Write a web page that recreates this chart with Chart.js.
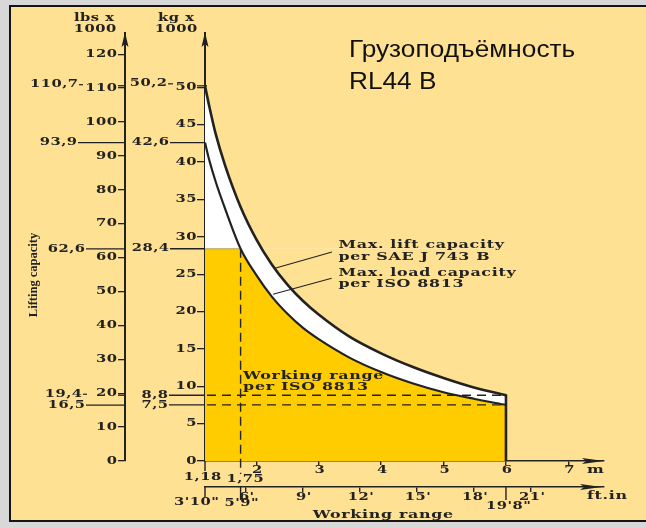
<!DOCTYPE html>
<html><head><meta charset="utf-8">
<script src="https://cdn.jsdelivr.net/npm/chart.js@4"></script>
<style>
html,body{margin:0;padding:0;background:#d8d8d8;width:646px;height:528px;overflow:hidden}
#frame{position:absolute;left:9px;top:5px;width:660px;height:513px;border:2px solid #141414;background:#FFE193}
#c{position:absolute;left:0;top:0}
</style></head>
<body><div id="frame"></div><canvas id="c" width="646" height="528"></canvas>
<script>
// ---- data ----
const distancesM      = [1.18, 1.25, 1.35, 1.5, 1.75, 2.0, 2.25, 2.5, 2.75, 3.0, 3.5, 4.0, 4.5, 5.0, 5.5, 6.0];
const liftCapacitySAE = [50.2, 47.4, 43.8, 39.6, 34.0, 29.7, 26.3, 23.6, 21.4, 19.6, 16.6, 14.4, 12.6, 11.1, 9.8, 8.8];
const loadCapacityISO = [42.6, 40.2, 37.4, 33.8, 28.4, 24.9, 22.0, 19.7, 17.8, 16.3, 13.8, 11.9, 10.4, 9.2, 8.3, 7.5];
const workingLimitKg = 28.4;
const workingLimitM  = 1.75;
const kgTicks    = [0, 5, 10, 15, 20, 25, 30, 35, 40, 45, 50];
const lbsTicks   = [0, 10, 20, 30, 40, 50, 60, 70, 80, 90, 100, 110, 120];
const meterTicks = [2, 3, 4, 5, 6, 7];
const feetTicks  = [6, 9, 12, 15, 18, 21];
const kgMarks       = [50.2, 42.6, 28.4, 8.8, 7.5];
const kgMarkLabels  = ['50,2', '42,6', '28,4', '8,8', '7,5'];
const lbsMarks      = [110.7, 93.9, 62.6, 19.4, 16.5];
const lbsMarkLabels = ['110,7', '93,9', '62,6', '19,4', '16,5'];
const meterMarks      = [1.18, 1.75];
const meterMarkLabels = ['1,18', '1,75'];
const feetMarks       = [1.18, 1.75, 6.0];
const feetMarkLabels  = ['3\'10"', '5\'9"', '19\'8"'];
const titleLines = ['Грузоподъёмность', 'RL44 B'];

const KG_TO_LBS = 2.20462, FT_TO_M = 0.3048;
const KG_MAX = 57, M_MAX = 7.57;
const INK = '#222222';
const SERIF = 'DejaVu Serif';
const NUM = {size: 10.5, sx: 1.4, ls: 0.35};
const WORD = {size: 11.5, sx: 1.38, ls: 0.5};

function wtxt(ctx, s, x, y, o) {
  o = o || {};
  const st = o.st || NUM;
  ctx.save();
  ctx.translate(x, y);
  ctx.scale(st.sx, 1);
  ctx.font = (o.weight || 'bold') + ' ' + st.size + 'px "' + (o.family || SERIF) + '"';
  ctx.fillStyle = o.color || INK;
  ctx.textAlign = o.align || 'left';
  ctx.textBaseline = o.baseline || 'middle';
  ctx.letterSpacing = (st.ls || 0) + 'px';
  let dx = 0;
  if (ctx.textAlign === 'right') dx = st.ls || 0;
  if (ctx.textAlign === 'center') dx = (st.ls || 0) / 2;
  ctx.fillText(s, dx, 0);
  ctx.restore();
}
function line(ctx, x1, y1, x2, y2, w, dash) {
  ctx.save();
  ctx.strokeStyle = INK; ctx.lineWidth = w || 1.3;
  ctx.setLineDash(dash || []);
  ctx.beginPath(); ctx.moveTo(x1, y1); ctx.lineTo(x2, y2); ctx.stroke();
  ctx.restore();
}
function arrow(ctx, tx, ty, dir) {
  ctx.save(); ctx.fillStyle = INK; ctx.beginPath();
  if (dir === 'up') { ctx.moveTo(tx, ty); ctx.lineTo(tx - 3.5, ty + 15); ctx.lineTo(tx, ty + 12); ctx.lineTo(tx + 3.5, ty + 15); }
  else { ctx.moveTo(tx, ty); ctx.lineTo(tx - 22, ty - 3); ctx.lineTo(tx - 18, ty); ctx.lineTo(tx - 22, ty + 3); }
  ctx.closePath(); ctx.fill(); ctx.restore();
}

const annot = {
  id: 'annot',
  afterDatasetsDraw(chart) {
    const ctx = chart.ctx, x = chart.scales.x, y = chart.scales.y;
    const last = distancesM.length - 1;
    const xEnd = x.getPixelForValue(distancesM[last]);
    // faint top edge of the working range
    ctx.save(); ctx.strokeStyle = 'rgba(90,90,90,0.45)'; ctx.lineWidth = 1;
    ctx.beginPath(); ctx.moveTo(x.left, y.getPixelForValue(workingLimitKg)); ctx.lineTo(x.getPixelForValue(workingLimitM), y.getPixelForValue(workingLimitKg)); ctx.stroke(); ctx.restore();
    [liftCapacitySAE[last], loadCapacityISO[last]].forEach(v => {
      const py = y.getPixelForValue(v);
      line(ctx, x.left + 2, py, xEnd - 4, py, 1.3, [9, 6]);
    });
    const px = x.getPixelForValue(workingLimitM);
    line(ctx, px, y.getPixelForValue(workingLimitKg), px, y.bottom + 13, 1.4, [9, 5]);
    line(ctx, xEnd, y.getPixelForValue(0), xEnd, y.getPixelForValue(liftCapacitySAE[last]) - 1, 2.6);
  },
  afterDraw(chart) {
    const ctx = chart.ctx, {x, x2, y, y2} = chart.scales;
    const top = chart.chartArea.top;
    // arrows
    line(ctx, y.right, top, y.right, top - 3, 2);
    line(ctx, y2.right, top, y2.right, top - 3, 2);
    arrow(ctx, y.right, top - 3, 'up');
    arrow(ctx, y2.right, top - 3, 'up');
    arrow(ctx, x.right, x.top, 'right');
    arrow(ctx, x2.right - 2, x2.top, 'right');
    // tick labels
    kgTicks.forEach(v => wtxt(ctx, String(v), y.right - 8.5, y.getPixelForValue(v), {align: 'right'}));
    lbsTicks.forEach(v => wtxt(ctx, String(v), y2.right - 8, y2.getPixelForValue(v), {align: 'right'}));
    meterTicks.forEach(v => wtxt(ctx, String(v), x.getPixelForValue(v) + 1, x.top + 9, {align: 'center'}));
    feetTicks.forEach(f => wtxt(ctx, f + '\'', x2.getPixelForValue(f * FT_TO_M) + 1, x2.top + 10, {align: 'center'}));
    // axis headers
    wtxt(ctx, 'lbs x', y2.right - 31, 18, {align: 'center'});
    wtxt(ctx, '1000', y2.right - 30, 29, {align: 'center'});
    wtxt(ctx, 'kg x', y.right - 29, 18, {align: 'center'});
    wtxt(ctx, '1000', y.right - 29, 29, {align: 'center'});
    // rotated title
    ctx.save();
    ctx.translate(34, (y.top + y.bottom) / 2 + 27);
    ctx.rotate(-Math.PI / 2);
    wtxt(ctx, 'Lifting capacity', 0, 0, {align: 'center', st: {size: 12.5, sx: 1, ls: 0}, family: 'Liberation Serif'});
    ctx.restore();
    // lbs special marks
    const lbsRight = [-47, -48, -40, -43, -40];
    lbsMarks.forEach((v, i) => {
      const py = y2.getPixelForValue(v);
      const dashOnly = (i === 0 || i === 3);
      const right = y2.right + lbsRight[i];
      wtxt(ctx, lbsMarkLabels[i], right, py - (dashOnly ? 1 : 0), {align: 'right'});
      if (dashOnly) {
        line(ctx, right + 1, py - 1, right + 5, py - 1, 1.2);
        line(ctx, y2.right - 7, py, y2.right, py, 1.3);
      } else {
        line(ctx, right + 1, py, y2.right, py, 1.3);
      }
    });
    // kg special marks
    kgMarks.forEach((v, i) => {
      const py = y.getPixelForValue(v);
      if (i === 0) {
        const right = y.left + 42;
        wtxt(ctx, kgMarkLabels[i], right, py - 2.5, {align: 'right'});
        line(ctx, right + 1, py - 2, right + 6, py - 2, 1.2);
        line(ctx, y.right - 8, py, y.right + 2, py, 1.3);
      } else {
        const right = y.left + (i >= 3 ? 43 : 44);
        wtxt(ctx, kgMarkLabels[i], right, py, {align: 'right'});
        line(ctx, right + 1, py, y.right, py, 1.3);
      }
    });
    // metre marks
    meterMarks.forEach((v, i) => {
      const px = x.getPixelForValue(v);
      if (i === 0) line(ctx, px, x.top, px, x.top + 10, 1.4);
      wtxt(ctx, meterMarkLabels[i], px + (i === 0 ? -2.5 : 4.5), x.top + 16 + i * 2.3, {align: 'center'});
    });
    wtxt(ctx, 'm', x.right - 17, x.top + 9, {align: 'left', st: WORD});
    // feet marks
    feetMarks.forEach((v, i) => {
      const px = x2.getPixelForValue(v);
      line(ctx, px, x2.top, px, x2.top + (i === 0 ? 10.5 : 13), 1.4);
      const off = i === 0 ? -8.5 : (i === 1 ? 1 : 2.5);
      wtxt(ctx, feetMarkLabels[i], px + off, x2.top + 15.5 + (i === 1 ? 1 : 0) + (i === 2 ? 3.5 : 0), {align: 'center'});
    });
    wtxt(ctx, 'ft.in', x2.right - 17, x2.top + 9.5, {align: 'left', st: WORD});
    wtxt(ctx, 'Working range', x.getPixelForValue(4.03), x2.top + 28, {align: 'center', st: WORD});
    // callouts
    const cx = x.getPixelForValue(3.318);
    wtxt(ctx, 'Max. lift capacity', cx, y.getPixelForValue(28.9), {st: WORD});
    wtxt(ctx, 'per SAE J 743 B', cx, y.getPixelForValue(27.35), {st: WORD});
    wtxt(ctx, 'Max. load capacity', cx, y.getPixelForValue(25.15), {st: WORD});
    wtxt(ctx, 'per ISO 8813', cx, y.getPixelForValue(23.7), {st: WORD});
    line(ctx, x.getPixelForValue(2.30), y.getPixelForValue(25.8), x.getPixelForValue(3.214), y.getPixelForValue(27.96), 1.1);
    line(ctx, x.getPixelForValue(2.27), y.getPixelForValue(22.3), x.getPixelForValue(3.209), y.getPixelForValue(24.44), 1.1);
    const wx = x.getPixelForValue(1.79);
    wtxt(ctx, 'Working range', wx, y.getPixelForValue(11.37), {st: WORD});
    wtxt(ctx, 'per ISO 8813', wx, y.getPixelForValue(9.95), {st: WORD});
    // title
    const T = {size: 23, sx: 1.14, ls: 0};
    wtxt(ctx, titleLines[0], 349, 57, {st: T, family: 'Liberation Sans', weight: 'normal', baseline: 'alphabetic', color: '#111'});
    wtxt(ctx, titleLines[1], 349, 89, {st: T, family: 'Liberation Sans', weight: 'normal', baseline: 'alphabetic', color: '#111'});
  }
};

const pts = ys => distancesM.map((m, i) => ({x: m, y: ys[i]}));
const hiddenTicks = {display: false, autoSkip: false, maxRotation: 0};

new Chart(document.getElementById('c'), {
  type: 'line',
  data: {datasets: [
    {label: 'Max. lift capacity per SAE J 743 B', data: pts(liftCapacitySAE), borderColor: INK, borderWidth: 2.6, fill: false, order: 0},
    {label: 'Max. load capacity per ISO 8813', data: pts(loadCapacityISO), borderColor: INK, borderWidth: 2.2,
     fill: {target: {value: workingLimitKg}, above: '#ffffff', below: 'rgba(0,0,0,0)'}, order: 1},
    {label: 'Working range', data: pts(loadCapacityISO), borderWidth: 0, borderColor: 'rgba(0,0,0,0)', backgroundColor: '#FFCC00', fill: 'origin', order: 2},
    {label: 'lift area', data: pts(liftCapacitySAE), borderWidth: 0, borderColor: 'rgba(0,0,0,0)', backgroundColor: '#ffffff', fill: 'origin', order: 3}
  ]},
  options: {
    responsive: false, animation: false, devicePixelRatio: 1,
    layout: {padding: {left: 20, right: 42, top: 35, bottom: 11}},
    elements: {point: {radius: 0}, line: {cubicInterpolationMode: 'monotone'}},
    plugins: {legend: {display: false}, tooltip: {enabled: false}},
    scales: {
      x: {type: 'linear', position: 'bottom', min: distancesM[0], max: M_MAX, weight: 0, z: 1,
        afterBuildTicks: s => { s.ticks = meterTicks.map(v => ({value: v})); },
        afterFit: s => { s.height = 26; },
        ticks: hiddenTicks,
        grid: {drawOnChartArea: false, drawTicks: true, tickLength: 4, color: INK, lineWidth: 1.4},
        border: {display: true, color: INK, width: 1.5}},
      x2: {type: 'linear', position: 'bottom', min: distancesM[0], max: M_MAX, weight: 1, z: 1,
        afterBuildTicks: s => { s.ticks = feetTicks.map(f => ({value: f * FT_TO_M})); },
        afterFit: s => { s.height = 30; },
        ticks: hiddenTicks,
        grid: {drawOnChartArea: false, drawTicks: true, tickLength: 5, color: INK, lineWidth: 1.4},
        border: {display: true, color: INK, width: 1.5}},
      y: {type: 'linear', position: 'left', min: 0, max: KG_MAX, weight: 0, z: 1,
        afterBuildTicks: s => { s.ticks = kgTicks.map(v => ({value: v})); },
        afterFit: s => { s.width = 80; },
        ticks: hiddenTicks,
        grid: {drawOnChartArea: false, drawTicks: true, tickLength: 8, color: INK, lineWidth: 1.3},
        border: {display: true, color: INK, width: 2}},
      y2: {type: 'linear', position: 'left', min: 0, max: KG_MAX * KG_TO_LBS, weight: 1, z: 1,
        afterBuildTicks: s => { s.ticks = lbsTicks.map(v => ({value: v})); },
        afterFit: s => { s.width = 105; },
        ticks: hiddenTicks,
        grid: {drawOnChartArea: false, drawTicks: true, tickLength: 7, color: INK, lineWidth: 1.3},
        border: {display: true, color: INK, width: 2}}
    }
  },
  plugins: [annot]
});
</script>
</body></html>
